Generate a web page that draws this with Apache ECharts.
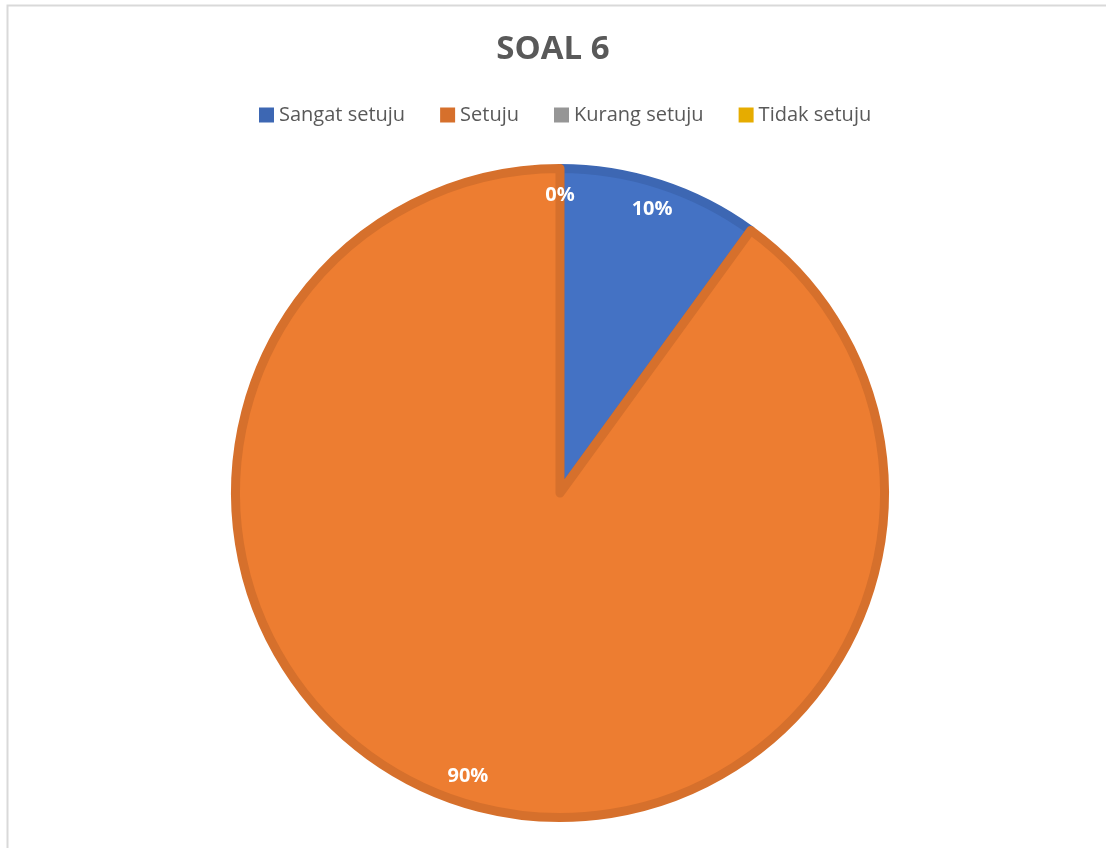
<!DOCTYPE html>
<html>
<head>
<meta charset="utf-8">
<script src="https://cdn.jsdelivr.net/npm/echarts@6/dist/echarts.min.js"></script>
<style>
html,body{margin:0;padding:0;background:#fff;}
#chart{width:1106px;height:848px;}
</style>
</head>
<body>
<div id="chart"></div>
<script>
const titleText = 'SOAL 6';
const categories = ['Sangat setuju', 'Setuju', 'Kurang setuju', 'Tidak setuju'];
const values = [10, 90, 0, 0];
const fillColors = ['#4472C4', '#ED7D31', '#A5A5A5', '#FFC000'];
const borderColors = ['#3D67B3', '#D6702C', '#969696', '#E6AC00'];

const chart = echarts.init(document.getElementById('chart'));

const pieData = categories.map((name, i) => ({
  name: name,
  value: values[i],
  itemStyle: {
    color: fillColors[i],
    borderColor: borderColors[i],
    borderWidth: values[i] > 0 ? 9 : 0
  }
}));

const labelData = categories.map((name, i) => ({
  name: name,
  value: values[i],
  itemStyle: { color: 'rgba(0,0,0,0)', borderWidth: 0 }
}));

const total = values.reduce((a, b) => a + b, 0);

chart.setOption({
  animation: false,
  backgroundColor: '#ffffff',
  graphic: [{
    type: 'rect',
    shape: { x: 7.5, y: 5.5, width: 1300, height: 1000 },
    style: { fill: 'none', stroke: '#d9d9d9', lineWidth: 2 },
    silent: true,
    z: -10
  }],
  title: {
    text: titleText,
    left: 'center',
    top: 28,
    textStyle: {
      fontFamily: 'Open Sans',
      fontWeight: 'bold',
      fontSize: 33,
      color: '#595959'
    }
  },
  legend: {
    top: 100,
    left: 254,
    itemWidth: 15,
    itemHeight: 15,
    itemGap: 35,
    icon: 'rect',
    textStyle: {
      fontFamily: 'Open Sans',
      fontSize: 20,
      color: '#595959'
    },
    data: categories.map((name, i) => ({
      name: name,
      itemStyle: { color: borderColors[i], borderWidth: 0 }
    }))
  },
  series: [{
    type: 'pie',
    center: [560, 493],
    radius: 324.5,
    startAngle: 90,
    clockwise: true,
    silent: true,
    label: { show: false },
    labelLine: { show: false },
    data: pieData
  }, {
    type: 'pie',
    center: [560, 493],
    radius: [270, 320],
    startAngle: 90,
    clockwise: true,
    silent: true,
    stillShowZeroSum: true,
    label: {
      show: true,
      position: 'inside',
      formatter: p => Math.round(p.value / total * 100) + '%',
      fontFamily: 'Open Sans',
      fontWeight: 'bold',
      fontSize: 20,
      color: '#ffffff'
    },
    labelLine: { show: false },
    data: labelData
  }]
});
</script>
</body>
</html>
